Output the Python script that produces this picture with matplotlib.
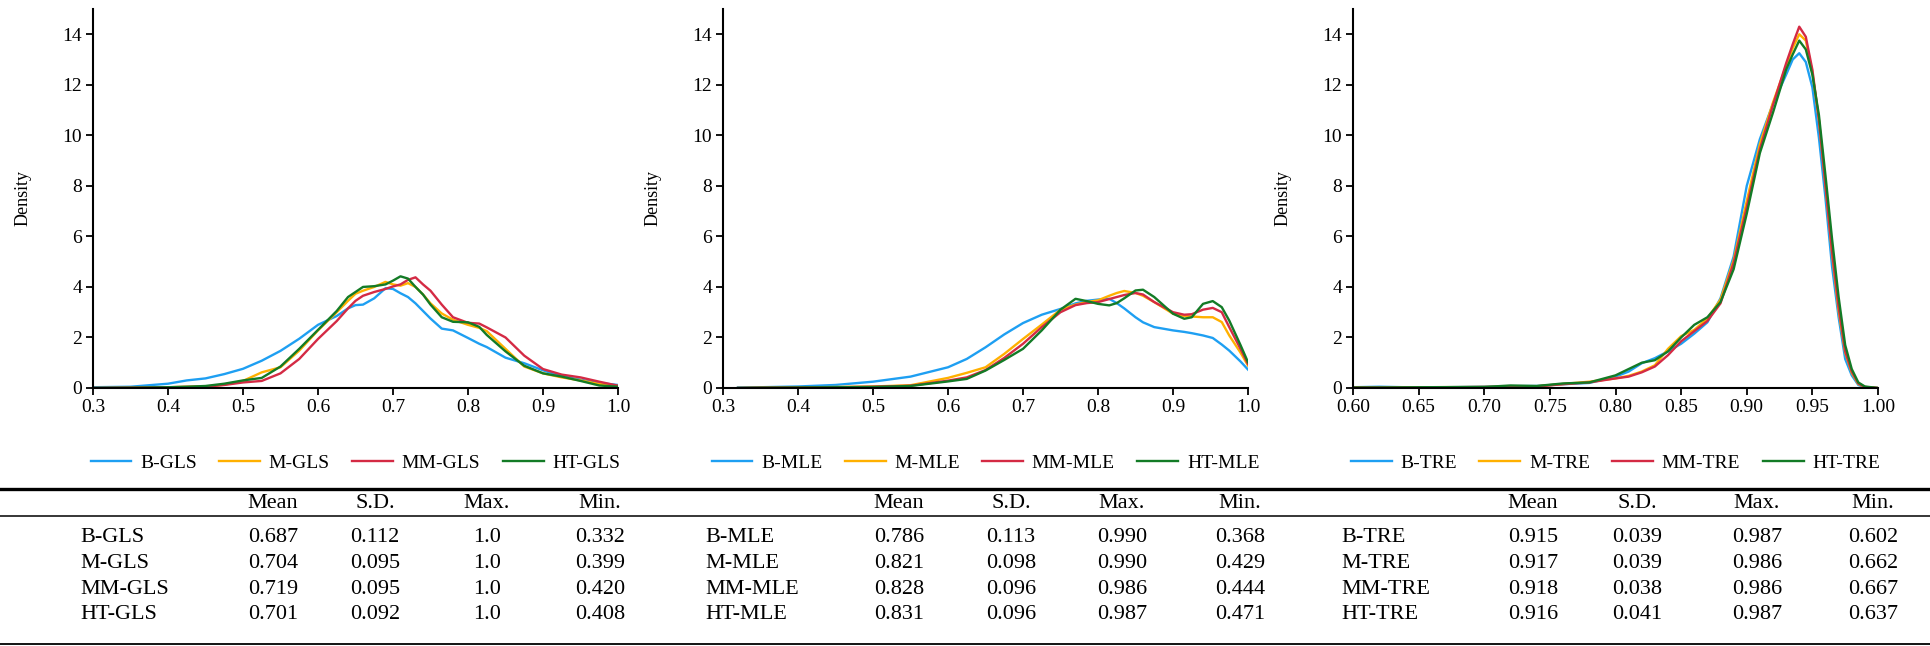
import matplotlib
matplotlib.use("Agg")
import matplotlib.pyplot as plt
from matplotlib.lines import Line2D

plt.rcParams['font.family'] = ['Liberation Serif', 'DejaVu Serif']

# ---- density curves ----
series_names = ['B', 'M', 'MM', 'HT']
colors = ['#1E9FF2', '#FFB000', '#D42A44', '#137B26']

x_gls = [0.30, 0.35, 0.40, 0.425, 0.45, 0.475, 0.50, 0.525, 0.55, 0.575, 0.60, 0.625,
         0.64, 0.65, 0.66, 0.675, 0.69, 0.70, 0.71, 0.72, 0.73, 0.74, 0.75, 0.765,
         0.78, 0.80, 0.815, 0.825, 0.85, 0.875, 0.90, 0.925, 0.95, 0.975, 1.00]
b_gls = [0.03, 0.05, 0.17, 0.30, 0.38, 0.55, 0.76, 1.08, 1.47, 1.95, 2.50, 2.85,
         3.15, 3.28, 3.30, 3.55, 3.95, 3.92, 3.75, 3.60, 3.35, 3.05, 2.75, 2.35,
         2.28, 1.98, 1.75, 1.62, 1.20, 0.98, 0.70, 0.47, 0.33, 0.20, 0.12]
m_gls = [0.00, 0.01, 0.03, 0.05, 0.06, 0.13, 0.28, 0.62, 0.82, 1.48, 2.28, 3.00,
         3.45, 3.73, 3.85, 4.00, 4.20, 4.10, 4.05, 4.15, 4.00, 3.70, 3.35, 2.95,
         2.70, 2.50, 2.38, 2.25, 1.55, 0.85, 0.58, 0.42, 0.30, 0.16, 0.08]
mm_gls = [0.00, 0.01, 0.03, 0.04, 0.05, 0.12, 0.22, 0.28, 0.58, 1.15, 1.94, 2.65,
          3.15, 3.45, 3.65, 3.80, 3.92, 4.02, 4.10, 4.28, 4.38, 4.10, 3.85, 3.30,
          2.80, 2.58, 2.55, 2.40, 2.00, 1.28, 0.75, 0.53, 0.42, 0.25, 0.09]
ht_gls = [0.00, 0.01, 0.03, 0.05, 0.08, 0.17, 0.30, 0.40, 0.85, 1.55, 2.30, 3.05,
          3.60, 3.80, 4.00, 4.03, 4.10, 4.25, 4.42, 4.33, 4.00, 3.70, 3.30, 2.80,
          2.62, 2.60, 2.42, 2.10, 1.45, 0.88, 0.58, 0.45, 0.28, 0.10, 0.05]

x_mle = [0.32, 0.35, 0.40, 0.45, 0.50, 0.55, 0.60, 0.625, 0.65, 0.675, 0.70, 0.725,
         0.75, 0.77, 0.785, 0.80, 0.815, 0.825, 0.835, 0.85, 0.86, 0.875, 0.90,
         0.915, 0.925, 0.94, 0.953, 0.965, 0.975, 0.99, 1.00]
b_mle = [0.02, 0.03, 0.06, 0.12, 0.25, 0.45, 0.82, 1.15, 1.61, 2.12, 2.57, 2.90,
         3.13, 3.35, 3.45, 3.50, 3.53, 3.36, 3.15, 2.80, 2.60, 2.41, 2.28,
         2.22, 2.17, 2.08, 1.98, 1.72, 1.48, 1.05, 0.73]
m_mle = [0.00, 0.01, 0.02, 0.04, 0.06, 0.11, 0.40, 0.60, 0.82, 1.35, 1.94, 2.51,
         3.10, 3.30, 3.40, 3.47, 3.65, 3.76, 3.84, 3.76, 3.65, 3.40, 2.94,
         2.85, 2.83, 2.80, 2.80, 2.61, 2.08, 1.40, 0.89]
mm_mle = [0.00, 0.01, 0.02, 0.03, 0.05, 0.09, 0.29, 0.42, 0.71, 1.19, 1.75, 2.41,
          3.00, 3.28, 3.36, 3.40, 3.52, 3.60, 3.68, 3.76, 3.70, 3.40, 3.00,
          2.90, 2.92, 3.10, 3.17, 3.00, 2.41, 1.55, 0.95]
ht_mle = [0.00, 0.01, 0.02, 0.03, 0.04, 0.08, 0.26, 0.36, 0.69, 1.11, 1.55, 2.28,
          3.10, 3.53, 3.44, 3.33, 3.27, 3.36, 3.55, 3.86, 3.89, 3.60, 2.94,
          2.74, 2.80, 3.33, 3.44, 3.20, 2.67, 1.70, 1.02]

x_tre = [0.60, 0.62, 0.65, 0.70, 0.72, 0.74, 0.76, 0.78, 0.80, 0.81, 0.82, 0.83,
         0.84, 0.85, 0.86, 0.87, 0.88, 0.89, 0.90, 0.91, 0.92, 0.93, 0.935, 0.94,
         0.945, 0.95, 0.955, 0.96, 0.965, 0.97, 0.975, 0.98, 0.985, 0.99, 1.00]
b_tre = [0.03, 0.05, 0.02, 0.05, 0.07, 0.08, 0.15, 0.20, 0.45, 0.65, 0.98, 1.18,
         1.45, 1.75, 2.15, 2.60, 3.55, 5.20, 8.00, 9.85, 11.25, 12.40, 13.00, 13.25,
         12.90, 11.90, 9.90, 7.50, 4.80, 2.80, 1.15, 0.50, 0.12, 0.03, 0.00]
m_tre = [0.02, 0.02, 0.03, 0.04, 0.05, 0.07, 0.16, 0.25, 0.38, 0.48, 0.65, 0.90,
         1.55, 2.05, 2.30, 2.75, 3.50, 5.05, 7.40, 9.65, 11.30, 12.75, 13.45, 14.00,
         13.75, 12.50, 10.60, 8.00, 5.30, 3.05, 1.40, 0.60, 0.16, 0.04, 0.00]
mm_tre = [0.02, 0.02, 0.02, 0.04, 0.05, 0.06, 0.15, 0.22, 0.38, 0.45, 0.62, 0.85,
          1.30, 1.85, 2.25, 2.65, 3.35, 4.95, 7.15, 9.45, 11.20, 12.85, 13.60, 14.30,
          13.90, 12.60, 10.60, 8.00, 5.40, 3.20, 1.45, 0.65, 0.18, 0.04, 0.00]
ht_tre = [0.02, 0.02, 0.03, 0.04, 0.10, 0.08, 0.18, 0.22, 0.50, 0.75, 1.00, 1.10,
          1.45, 2.00, 2.50, 2.80, 3.40, 4.70, 6.90, 9.30, 10.90, 12.60, 13.20, 13.75,
          13.40, 12.40, 10.80, 8.40, 5.90, 3.60, 1.70, 0.75, 0.22, 0.06, 0.00]

# ---- summary table ----
col_heads = ['Mean', 'S.D.', 'Max.', 'Min.']
gls_rows = ['B-GLS', 'M-GLS', 'MM-GLS', 'HT-GLS']
gls_stats = [['0.687', '0.112', '1.0', '0.332'],
             ['0.704', '0.095', '1.0', '0.399'],
             ['0.719', '0.095', '1.0', '0.420'],
             ['0.701', '0.092', '1.0', '0.408']]
mle_rows = ['B-MLE', 'M-MLE', 'MM-MLE', 'HT-MLE']
mle_stats = [['0.786', '0.113', '0.990', '0.368'],
             ['0.821', '0.098', '0.990', '0.429'],
             ['0.828', '0.096', '0.986', '0.444'],
             ['0.831', '0.096', '0.987', '0.471']]
tre_rows = ['B-TRE', 'M-TRE', 'MM-TRE', 'HT-TRE']
tre_stats = [['0.915', '0.039', '0.987', '0.602'],
             ['0.917', '0.039', '0.986', '0.662'],
             ['0.918', '0.038', '0.986', '0.667'],
             ['0.916', '0.041', '0.987', '0.637']]

W, H = 1930, 646
fig = plt.figure(figsize=(W / 100, H / 100), dpi=100)

panels = [
    (x_gls, [b_gls, m_gls, mm_gls, ht_gls], 'GLS', (0.3, 1.0), [0.3, 0.4, 0.5, 0.6, 0.7, 0.8, 0.9, 1.0], '{:.1f}', 93),
    (x_mle, [b_mle, m_mle, mm_mle, ht_mle], 'MLE', (0.3, 1.0), [0.3, 0.4, 0.5, 0.6, 0.7, 0.8, 0.9, 1.0], '{:.1f}', 723),
    (x_tre, [b_tre, m_tre, mm_tre, ht_tre], 'TRE', (0.6, 1.0), [0.60, 0.65, 0.70, 0.75, 0.80, 0.85, 0.90, 0.95, 1.00], '{:.2f}', 1353),
]

for xs, ys_list, tag, xlim, xticks, fmt, left_px in panels:
    ax = fig.add_axes([left_px / W, (H - 388) / H, 525 / W, 379 / H])
    for name, ys, c in zip(series_names, ys_list, colors):
        ax.plot(xs, ys, color=c, lw=1.7, label=f'{name}-{tag}')
    ax.set_xlim(*xlim)
    ax.set_ylim(0, 15)
    ax.set_xticks(xticks)
    ax.set_xticklabels([fmt.format(t) for t in xticks])
    ax.set_yticks(range(0, 15, 2))
    for s in ['top', 'right']:
        ax.spines[s].set_visible(False)
    for s in ['left', 'bottom']:
        ax.spines[s].set_linewidth(1.5)
    ax.tick_params(labelsize=14, length=5, width=1.3, pad=3)
    ax.set_ylabel('Density', fontsize=13)
    ax.yaxis.set_label_coords(-0.118, 0.5)
    ax.legend(loc='center', bbox_to_anchor=(0.5, -0.198), ncol=4, frameon=False,
              fontsize=14, handlelength=2.1, handletextpad=0.45, columnspacing=1.15)

# table rules
def hline(y_px, lw):
    fig.add_artist(Line2D([0, 1], [1 - y_px / H, 1 - y_px / H], color='black',
                          lw=lw, transform=fig.transFigure))

hline(489, 2.4)
hline(516, 1.1)
hline(643.5, 1.3)

groups = [(gls_rows, gls_stats, 80, [273, 375, 487, 600]),
          (mle_rows, mle_stats, 705, [899, 1011, 1122, 1240]),
          (tre_rows, tre_stats, 1341, [1533, 1637, 1757, 1873])]
head_y = 504
row_y = [538, 563.5, 589, 614.5]
fs = 16
for rows, stats, lx, cols in groups:
    for head, cx in zip(col_heads, cols):
        fig.text(cx / W, 1 - head_y / H, head, ha='center', va='center', fontsize=fs)
    for r, (label, vals) in enumerate(zip(rows, stats)):
        y = 1 - row_y[r] / H
        fig.text(lx / W, y, label, ha='left', va='center', fontsize=fs)
        for v, cx in zip(vals, cols):
            fig.text(cx / W, y, v, ha='center', va='center', fontsize=fs)

fig.savefig('out.png', dpi=100)
